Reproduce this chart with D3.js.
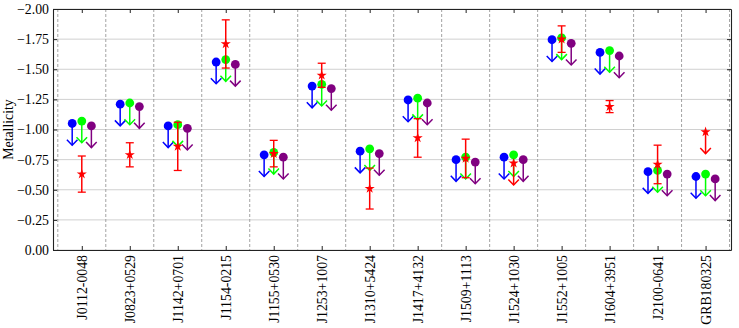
<!DOCTYPE html>
<html>
<head>
<meta charset="utf-8">
<script src="https://cdn.jsdelivr.net/npm/d3@7"></script>
<style>
  html, body { margin: 0; padding: 0; background: #fff; }
  svg { display: block; }
  text { font-family: "Liberation Serif", "Times New Roman", serif; }
</style>
</head>
<body>
<svg id="chart" width="739" height="328"></svg>
<script>
// ---- data ----
const categories = ["J0112-0048","J0823+0529","J1142+0701","J1154-0215","J1155+0530","J1253+1007","J1310+5424","J1417+4132","J1509+1113","J1524+1030","J1552+1005","J1604+3951","J2100-0641","GRB180325"];
const blueVals   = [-1.05,-1.21,-1.03,-1.56,-0.79,-1.36,-0.82,-1.245,-0.75,-0.77,-1.745,-1.64,-0.65,-0.61];
const greenVals  = [-1.07,-1.22,-1.04,-1.58,-0.81,-1.375,-0.84,-1.26,-0.77,-0.79,-1.76,-1.655,-0.66,-0.63];
const purpleVals = [-1.03,-1.19,-1.01,-1.54,-0.77,-1.34,-0.80,-1.22,-0.73,-0.75,-1.715,-1.61,-0.63,-0.59];
const redVals    = [-0.63,-0.79,-0.86,-1.71,-0.80,-1.45,-0.51,-0.93,-0.76,-0.72,-1.75,-1.19,-0.71,-0.98];
const redErr     = [0.15,0.10,0.20,0.20,0.11,0.10,0.17,0.16,0.16,0,0.11,0.05,0.16,0];
const redIsLimit = [false,false,false,false,false,false,false,false,false,true,false,false,false,true];
const limitLength = 0.18;
const yTicks = [0,-0.25,-0.5,-0.75,-1,-1.25,-1.5,-1.75,-2];
const circleSeries = [
  {values: blueVals, offset: -0.2, color: "#0000ff"},
  {values: greenVals, offset: 0, color: "#00ff00"},
  {values: purpleVals, offset: 0.2, color: "#800080"}
];

(function () {
// ---- layout ----
const svg = d3.select("#chart");
const pL = 53, pR = 731, pT = 9, pB = 250;
const x = d3.scaleLinear().domain([-0.6, 13.53]).range([pL, pR]);
const y = d3.scaleLinear().domain([0, -2]).range([pB, pT]);
const fmt = d3.format(".2f");

// grid
const grid = svg.append("g");
grid.selectAll("line.h").data(yTicks).join("line")
  .attr("x1", pL).attr("x2", pR)
  .attr("y1", d => y(d)).attr("y2", d => y(d))
  .attr("stroke", "#d0d0d0").attr("stroke-width", 1);
grid.selectAll("line.v").data(d3.range(-1, 14).map(i => i + 0.5)).join("line")
  .attr("x1", d => x(d)).attr("x2", d => x(d))
  .attr("y1", pT).attr("y2", pB)
  .attr("stroke", "#999").attr("stroke-width", 0.9).attr("stroke-dasharray", "3,2");

// axes
const fontSize = "13.8px";
const gL = svg.append("g").attr("transform", `translate(${pL},0)`)
  .call(d3.axisLeft(y).tickValues(yTicks).tickFormat(fmt).tickSizeInner(-4).tickSizeOuter(0).tickPadding(4));
const gR = svg.append("g").attr("transform", `translate(${pR},0)`)
  .call(d3.axisRight(y).tickValues(yTicks).tickFormat("").tickSizeInner(-4).tickSizeOuter(0));
const gB = svg.append("g").attr("transform", `translate(0,${pB})`)
  .call(d3.axisBottom(x).tickValues(d3.range(categories.length)).tickFormat(i => categories[i]).tickSizeInner(-4).tickSizeOuter(0));
const gT = svg.append("g").attr("transform", `translate(0,${pT})`)
  .call(d3.axisTop(x).tickValues(d3.range(categories.length)).tickFormat("").tickSizeInner(-4).tickSizeOuter(0));
[gL, gR, gB, gT].forEach(g => {
  g.selectAll("path.domain").attr("stroke", "#222").attr("stroke-width", 1.1);
  g.selectAll(".tick line").attr("stroke", "#222").attr("stroke-width", 1);
  g.selectAll("text").attr("font-family", "Liberation Serif, Times New Roman, serif").attr("font-size", fontSize).attr("fill", "#000");
});
gB.selectAll(".tick text")
  .attr("transform", "rotate(-90)")
  .attr("text-anchor", "end")
  .attr("x", -5).attr("y", 0).attr("dy", "0.35em");

svg.append("text")
  .attr("transform", `translate(13,${(pT + pB) / 2}) rotate(-90)`)
  .attr("text-anchor", "middle")
  .attr("font-size", fontSize)
  .text("Metallicity");

// helpers
function limitArrow(g, cx, v, color) {
  const y0 = y(v), y1 = y(v + limitLength);
  g.append("line").attr("x1", cx).attr("x2", cx).attr("y1", y0).attr("y2", y1)
    .attr("stroke", color).attr("stroke-width", 1.5);
  g.append("path").attr("d", `M${cx - 5.3},${y1 - 5.5}L${cx},${y1}L${cx + 5.3},${y1 - 5.5}`)
    .attr("fill", "none").attr("stroke", color).attr("stroke-width", 1.5);
}

const marks = svg.append("g");
categories.forEach((c, i) => {
  circleSeries.forEach(s => {
    const cx = x(i + s.offset);
    const g = marks.append("g");
    limitArrow(g, cx, s.values[i], s.color);
    g.append("circle").attr("cx", cx).attr("cy", y(s.values[i])).attr("r", 4.4).attr("fill", s.color);
  });
});
const star = d3.symbol().type(d3.symbolStar).size(32);
categories.forEach((c, i) => {
  const cx = x(i);
  const g = marks.append("g");
  const v = redVals[i];
  if (redIsLimit[i]) {
    limitArrow(g, cx, v, "#ff0000");
  } else {
    const e = redErr[i];
    g.append("line").attr("x1", cx).attr("x2", cx).attr("y1", y(v - e)).attr("y2", y(v + e))
      .attr("stroke", "#ff0000").attr("stroke-width", 1.5);
    [v - e, v + e].forEach(t => g.append("line")
      .attr("x1", cx - 4).attr("x2", cx + 4).attr("y1", y(t)).attr("y2", y(t))
      .attr("stroke", "#ff0000").attr("stroke-width", 1.3));
  }
  g.append("path").attr("d", star).attr("transform", `translate(${cx},${y(v)})`).attr("fill", "#ff0000");
});
})();
</script>
</body>
</html>
